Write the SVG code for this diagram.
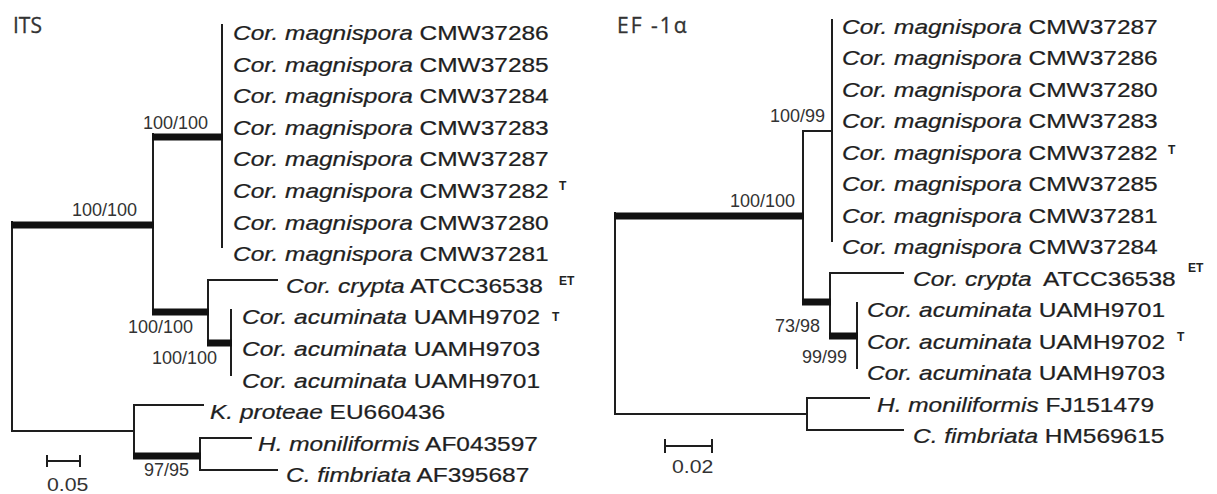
<svg xmlns="http://www.w3.org/2000/svg" width="1217" height="494" viewBox="0 0 1217 494">
<style>
.tx{font-family:"Liberation Sans",Arial,sans-serif;font-size:21px;fill:#1f1f1f;stroke:#1f1f1f;stroke-width:0.25}
.i{font-style:italic}
.sup{font-family:"Liberation Sans",Arial,sans-serif;font-size:12px;font-weight:bold;fill:#222}
.bs{font-family:"Liberation Sans",Arial,sans-serif;font-size:18px;fill:#333}
.sc{font-family:"Liberation Sans",Arial,sans-serif;font-size:19px;fill:#333}
.ttl{font-family:"Open Sans","DejaVu Sans",sans-serif;font-size:21px;fill:#333;stroke:#333;stroke-width:0.3}
.br{stroke:#1e1e1e;stroke-width:2;fill:none;stroke-linecap:square}
.thk{stroke:#111;stroke-width:7;fill:none;stroke-linecap:butt}
</style>
<rect width="1217" height="494" fill="#fff"/>

<g id="connectors">
  <!-- ITS tree -->
  <path class="br" d="M12 222 V431 H134 M153 134 V312 M222 25 V247 M208 280 V343 M208 280 H277 M231 310 V375 M134 405 V456 M134 405 H203 M200 438 V470 M200 438 H251 M200 470 H277"/>
  <path class="thk" d="M11 225 H154 M152 137 H223 M152 312 H209 M207 343 H232 M133 456 H201"/>
  <path class="br" d="M47 461 H80 M47 456 V466 M80 456 V466"/>
  <!-- EF tree -->
  <path class="br" d="M615 213 V414 H807 M803 131 V302 M803 131 H832 M832 20 V241 M830 273 V336 M830 273 H903 M857 303 V368 M807 398 V430 M807 398 H869 M807 430 H903"/>
  <path class="thk" d="M614 216 H804 M802 302 H831 M829 336 H858"/>
  <path class="br" d="M665 446 H712 M665 440 V452 M712 440 V452"/>
</g>

<g id="titles">
  <text class="ttl" x="13" y="33">ITS</text>
  <text class="ttl" x="617" y="33" letter-spacing="2">EF -1α</text>
</g>

<g id="its-support">
  <text class="bs" x="72" y="216">100/100</text>
  <text class="bs" x="143" y="129">100/100</text>
  <text class="bs" x="128" y="333">100/100</text>
  <text class="bs" x="152" y="364">100/100</text>
  <text class="bs" x="144" y="476">97/95</text>
  <text class="sc" transform="translate(47,491) scale(1.12,1)">0.05</text>
</g>

<g id="ef-support">
  <text class="bs" x="730" y="207">100/100</text>
  <text class="bs" x="770" y="122">100/99</text>
  <text class="bs" x="775" y="332">73/98</text>
  <text class="bs" x="802" y="363">99/99</text>
  <text class="sc" transform="translate(672,473) scale(1.12,1)">0.02</text>
</g>

<!-- ITS taxa -->
<g id="its-CMW37286"><text class="tx" transform="translate(233,40) scale(1.165,1)"><tspan class="i">Cor. magnispora</tspan> CMW37286</text></g>
<g id="its-CMW37285"><text class="tx" transform="translate(233,71.6) scale(1.165,1)"><tspan class="i">Cor. magnispora</tspan> CMW37285</text></g>
<g id="its-CMW37284"><text class="tx" transform="translate(233,103.2) scale(1.165,1)"><tspan class="i">Cor. magnispora</tspan> CMW37284</text></g>
<g id="its-CMW37283"><text class="tx" transform="translate(233,134.8) scale(1.165,1)"><tspan class="i">Cor. magnispora</tspan> CMW37283</text></g>
<g id="its-CMW37287"><text class="tx" transform="translate(233,166.4) scale(1.165,1)"><tspan class="i">Cor. magnispora</tspan> CMW37287</text></g>
<g id="its-CMW37282"><text class="tx" transform="translate(233,198) scale(1.165,1)"><tspan class="i">Cor. magnispora</tspan> CMW37282</text><text class="sup" x="559" y="190">T</text></g>
<g id="its-CMW37280"><text class="tx" transform="translate(233,229.6) scale(1.165,1)"><tspan class="i">Cor. magnispora</tspan> CMW37280</text></g>
<g id="its-CMW37281"><text class="tx" transform="translate(233,261.2) scale(1.165,1)"><tspan class="i">Cor. magnispora</tspan> CMW37281</text></g>
<g id="its-ATCC36538"><text class="tx" transform="translate(286,292.8) scale(1.165,1)"><tspan class="i">Cor. crypta</tspan> ATCC36538</text><text class="sup" x="559" y="285">ET</text></g>
<g id="its-UAMH9702"><text class="tx" transform="translate(242,324.4) scale(1.165,1)"><tspan class="i">Cor. acuminata</tspan> UAMH9702</text><text class="sup" x="552" y="321">T</text></g>
<g id="its-UAMH9703"><text class="tx" transform="translate(242,356) scale(1.165,1)"><tspan class="i">Cor. acuminata</tspan> UAMH9703</text></g>
<g id="its-UAMH9701"><text class="tx" transform="translate(242,387.6) scale(1.165,1)"><tspan class="i">Cor. acuminata</tspan> UAMH9701</text></g>
<g id="its-EU660436"><text class="tx" transform="translate(210,419.2) scale(1.165,1)"><tspan class="i">K. proteae</tspan> EU660436</text></g>
<g id="its-AF043597"><text class="tx" transform="translate(258,450.8) scale(1.165,1)"><tspan class="i">H. moniliformis</tspan> AF043597</text></g>
<g id="its-AF395687"><text class="tx" transform="translate(286,482.4) scale(1.165,1)"><tspan class="i">C. fimbriata</tspan> AF395687</text></g>

<!-- EF taxa -->
<g id="ef-CMW37287"><text class="tx" transform="translate(842,33.5) scale(1.165,1)"><tspan class="i">Cor. magnispora</tspan> CMW37287</text></g>
<g id="ef-CMW37286"><text class="tx" transform="translate(842,65) scale(1.165,1)"><tspan class="i">Cor. magnispora</tspan> CMW37286</text></g>
<g id="ef-CMW37280"><text class="tx" transform="translate(842,96.5) scale(1.165,1)"><tspan class="i">Cor. magnispora</tspan> CMW37280</text></g>
<g id="ef-CMW37283"><text class="tx" transform="translate(842,128) scale(1.165,1)"><tspan class="i">Cor. magnispora</tspan> CMW37283</text></g>
<g id="ef-CMW37282"><text class="tx" transform="translate(842,159.5) scale(1.165,1)"><tspan class="i">Cor. magnispora</tspan> CMW37282</text><text class="sup" x="1168" y="154">T</text></g>
<g id="ef-CMW37285"><text class="tx" transform="translate(842,191) scale(1.165,1)"><tspan class="i">Cor. magnispora</tspan> CMW37285</text></g>
<g id="ef-CMW37281"><text class="tx" transform="translate(842,222.5) scale(1.165,1)"><tspan class="i">Cor. magnispora</tspan> CMW37281</text></g>
<g id="ef-CMW37284"><text class="tx" transform="translate(842,254) scale(1.165,1)"><tspan class="i">Cor. magnispora</tspan> CMW37284</text></g>
<g id="ef-ATCC36538"><text class="tx" transform="translate(913,285.5) scale(1.165,1)"><tspan class="i">Cor. crypta</tspan><tspan dx="5"> ATCC36538</tspan></text><text class="sup" x="1188" y="272">ET</text></g>
<g id="ef-UAMH9701"><text class="tx" transform="translate(867,317) scale(1.165,1)"><tspan class="i">Cor. acuminata</tspan> UAMH9701</text></g>
<g id="ef-UAMH9702"><text class="tx" transform="translate(867,348.5) scale(1.165,1)"><tspan class="i">Cor. acuminata</tspan> UAMH9702</text><text class="sup" x="1177" y="341">T</text></g>
<g id="ef-UAMH9703"><text class="tx" transform="translate(867,380) scale(1.165,1)"><tspan class="i">Cor. acuminata</tspan> UAMH9703</text></g>
<g id="ef-FJ151479"><text class="tx" transform="translate(877,411.5) scale(1.165,1)"><tspan class="i">H. moniliformis</tspan> FJ151479</text></g>
<g id="ef-HM569615"><text class="tx" transform="translate(913,443) scale(1.165,1)"><tspan class="i">C. fimbriata</tspan> HM569615</text></g>
</svg>
